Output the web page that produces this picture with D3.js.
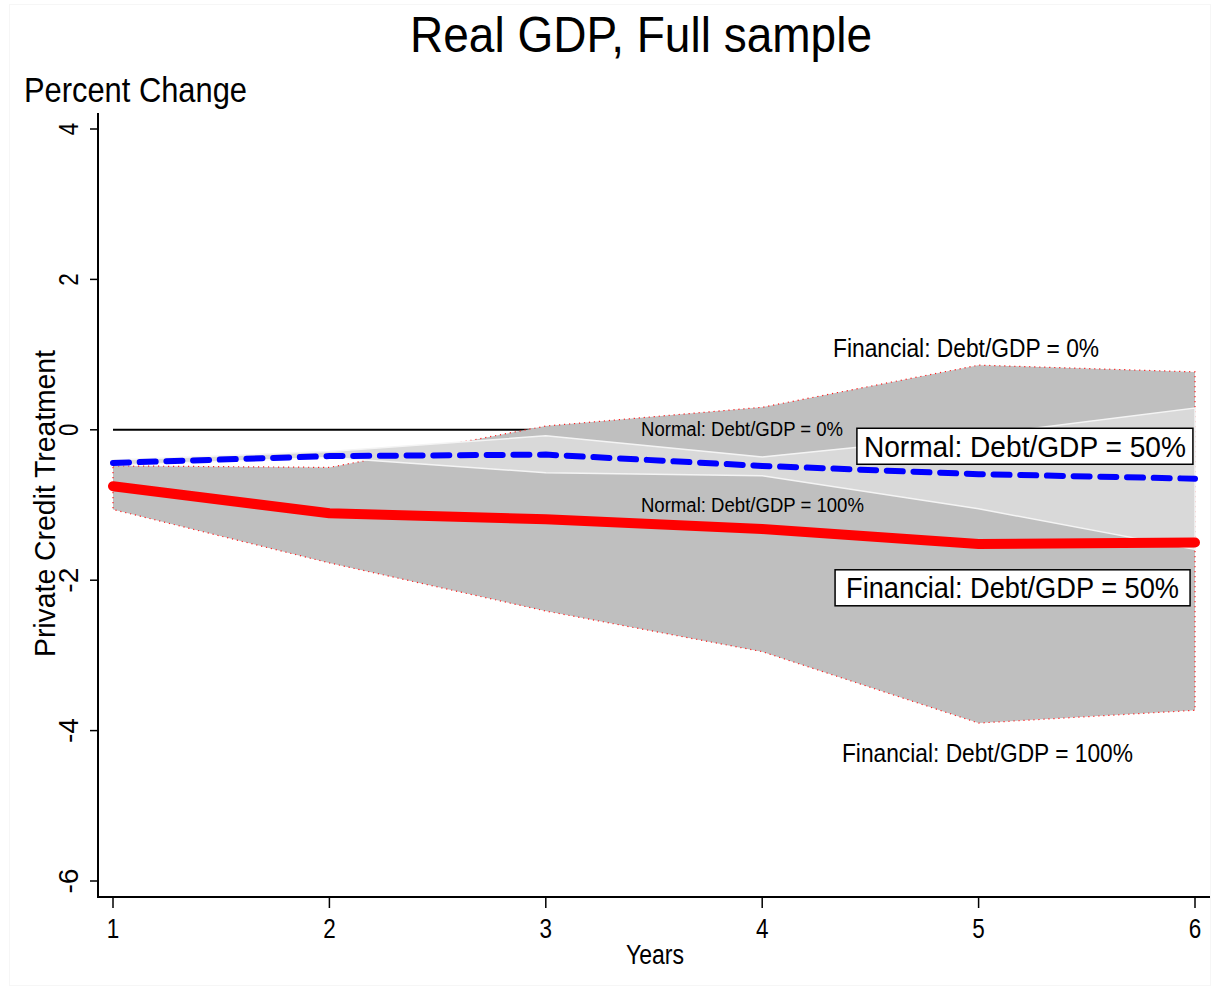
<!DOCTYPE html>
<html>
<head>
<meta charset="utf-8">
<script src="https://cdn.jsdelivr.net/npm/d3@7"></script>
<style>
  html, body { margin: 0; padding: 0; background: #ffffff; }
  svg { display: block; }
  text { font-family: "Liberation Sans", Arial, Helvetica, sans-serif; fill: #000; }
</style>
</head>
<body>
<div id="chart"></div>
<script>
// Horizon in years
const years = [1, 2, 3, 4, 5, 6];

// Point estimates (percent change in real GDP)
const financialMid = [-0.75, -1.11, -1.19, -1.32, -1.52, -1.50];
const normalMid    = [-0.44, -0.35, -0.33, -0.48, -0.59, -0.65];

// Financial recessions: Debt/GDP = 0% (upper) and 100% (lower)
const financialUpper = [-0.48, -0.50, 0.05, 0.30, 0.86, 0.77];
const financialLower = [-1.06, -1.77, -2.41, -2.95, -3.90, -3.73];

// Normal recessions: Debt/GDP = 0% (upper) and 100% (lower)
const normalUpper = [-0.40, -0.29, -0.08, -0.36, -0.07, 0.29];
const normalLower = [-0.47, -0.37, -0.57, -0.61, -1.05, -1.59];

// Axis ticks
const yTicks = [4, 2, 0, -2, -4, -6];
const xTicks = [1, 2, 3, 4, 5, 6];

// Annotation texts
const labelFin0    = "Financial: Debt/GDP = 0%";
const labelNorm0   = "Normal: Debt/GDP = 0%";
const labelNorm100 = "Normal: Debt/GDP = 100%";
const labelNorm50  = "Normal: Debt/GDP = 50%";
const labelFin50   = "Financial: Debt/GDP = 50%";
const labelFin100  = "Financial: Debt/GDP = 100%";

const W = 1215, H = 990;
const svg = d3.select("#chart").append("svg")
  .attr("width", W).attr("height", H);

svg.append("rect").attr("x", 0).attr("y", 0).attr("width", W).attr("height", H)
  .attr("fill", "#ffffff");
// faint graph-region frame
svg.append("rect").attr("x", 9.5).attr("y", 4.5).attr("width", W - 14).attr("height", H - 9)
  .attr("fill", "none").attr("stroke", "#f6f6f6").attr("stroke-width", 1);

const x = d3.scaleLinear().domain([1, 6]).range([113, 1195]);
const y = d3.scaleLinear().domain([-6, 4]).range([881, 129]);

const axisX = 98, axisY = 897;

// Narrow text helper: fixed font size, width squeezed to a target length
function narrowText(sel, size, len) {
  return sel.attr("font-size", size)
    .attr("textLength", len).attr("lengthAdjust", "spacingAndGlyphs");
}

// Title and y-axis caption
narrowText(svg.append("text").attr("x", 641).attr("y", 52).attr("text-anchor", "middle"), 50, 462)
  .text("Real GDP, Full sample");
narrowText(svg.append("text").attr("x", 24).attr("y", 102), 35, 223)
  .text("Percent Change");

// Zero reference line
svg.append("line")
  .attr("x1", x(1)).attr("x2", x(6)).attr("y1", y(0)).attr("y2", y(0))
  .attr("stroke", "#000").attr("stroke-width", 2);

const idx = d3.range(years.length);

// Financial band
const finArea = d3.area()
  .x(i => x(years[i])).y0(i => y(financialLower[i])).y1(i => y(financialUpper[i]));
svg.append("path").attr("d", finArea(idx))
  .attr("fill", "#bfbfbf")
  .attr("stroke", "#ff2020").attr("stroke-width", 1.2)
  .attr("stroke-dasharray", "1.2,3.8");

// Normal band
const normArea = d3.area()
  .x(i => x(years[i])).y0(i => y(normalLower[i])).y1(i => y(normalUpper[i]));
svg.append("path").attr("d", normArea(idx))
  .attr("fill", "#d9d9d9")
  .attr("stroke", "#f4f4f4").attr("stroke-width", 1.5);

// Point-estimate lines
const line = arr => d3.line().x(i => x(years[i])).y(i => y(arr[i]))(idx);
svg.append("path").attr("d", line(financialMid))
  .attr("fill", "none").attr("stroke", "#ff0000").attr("stroke-width", 10)
  .attr("stroke-linecap", "round").attr("stroke-linejoin", "round");
svg.append("path").attr("d", line(normalMid))
  .attr("fill", "none").attr("stroke", "#0000ff").attr("stroke-width", 6)
  .attr("stroke-linecap", "round").attr("stroke-linejoin", "round")
  .attr("stroke-dasharray", "16,10.7");

// Axes
const gy = svg.append("g").attr("transform", `translate(${axisX},0)`);
gy.append("line").attr("x1", 0).attr("x2", 0).attr("y1", 113).attr("y2", axisY)
  .attr("stroke", "#000").attr("stroke-width", 2);
yTicks.forEach(t => {
  gy.append("line").attr("x1", -8).attr("x2", 0).attr("y1", y(t)).attr("y2", y(t))
    .attr("stroke", "#000").attr("stroke-width", 1.5);
  narrowText(gy.append("text")
    .attr("transform", `translate(-20,${y(t)}) rotate(-90)`)
    .attr("text-anchor", "middle"), 27, String(t).length * 12.5)
    .text(t);
});
narrowText(svg.append("text")
  .attr("transform", `translate(55,${(350 + 657) / 2}) rotate(-90)`)
  .attr("text-anchor", "middle"), 29, 307)
  .text("Private Credit Treatment");

const gx = svg.append("g").attr("transform", `translate(0,${axisY})`);
gx.append("line").attr("x1", axisX - 1).attr("x2", 1210).attr("y1", 0).attr("y2", 0)
  .attr("stroke", "#000").attr("stroke-width", 2);
xTicks.forEach(t => {
  gx.append("line").attr("x1", x(t)).attr("x2", x(t)).attr("y1", 0).attr("y2", 11)
    .attr("stroke", "#000").attr("stroke-width", 1.5);
  narrowText(gx.append("text").attr("x", x(t)).attr("y", 41)
    .attr("text-anchor", "middle"), 27, 12.5)
    .text(t);
});
narrowText(svg.append("text").attr("x", 655).attr("y", 964).attr("text-anchor", "middle"), 27, 58)
  .text("Years");

// Annotations placed in data coordinates
function note(str, xv, yv, size, len) {
  narrowText(svg.append("text").attr("x", x(xv)).attr("y", y(yv))
    .attr("text-anchor", "middle"), size, len)
    .text(str);
}
function boxedNote(str, xv, yv, size, len, bw, bh) {
  const cx = x(xv), cy = y(yv);
  svg.append("rect").attr("x", cx - bw / 2).attr("y", cy - bh / 2)
    .attr("width", bw).attr("height", bh)
    .attr("fill", "#fff").attr("stroke", "#000").attr("stroke-width", 1.5);
  narrowText(svg.append("text").attr("x", cx).attr("y", cy + size * 0.3465)
    .attr("text-anchor", "middle"), size, len)
    .text(str);
}

note(labelFin0, 4.942, 0.964, 25, 266);
note(labelNorm0, 3.907, -0.086, 20, 202);
note(labelNorm100, 3.955, -1.097, 20, 223);
note(labelFin100, 5.041, -4.42, 25, 291);
boxedNote(labelNorm50, 5.214, -0.219, 30, 322, 336, 36);
boxedNote(labelFin50, 5.157, -2.101, 30, 333, 355, 36);
</script>
</body>
</html>
